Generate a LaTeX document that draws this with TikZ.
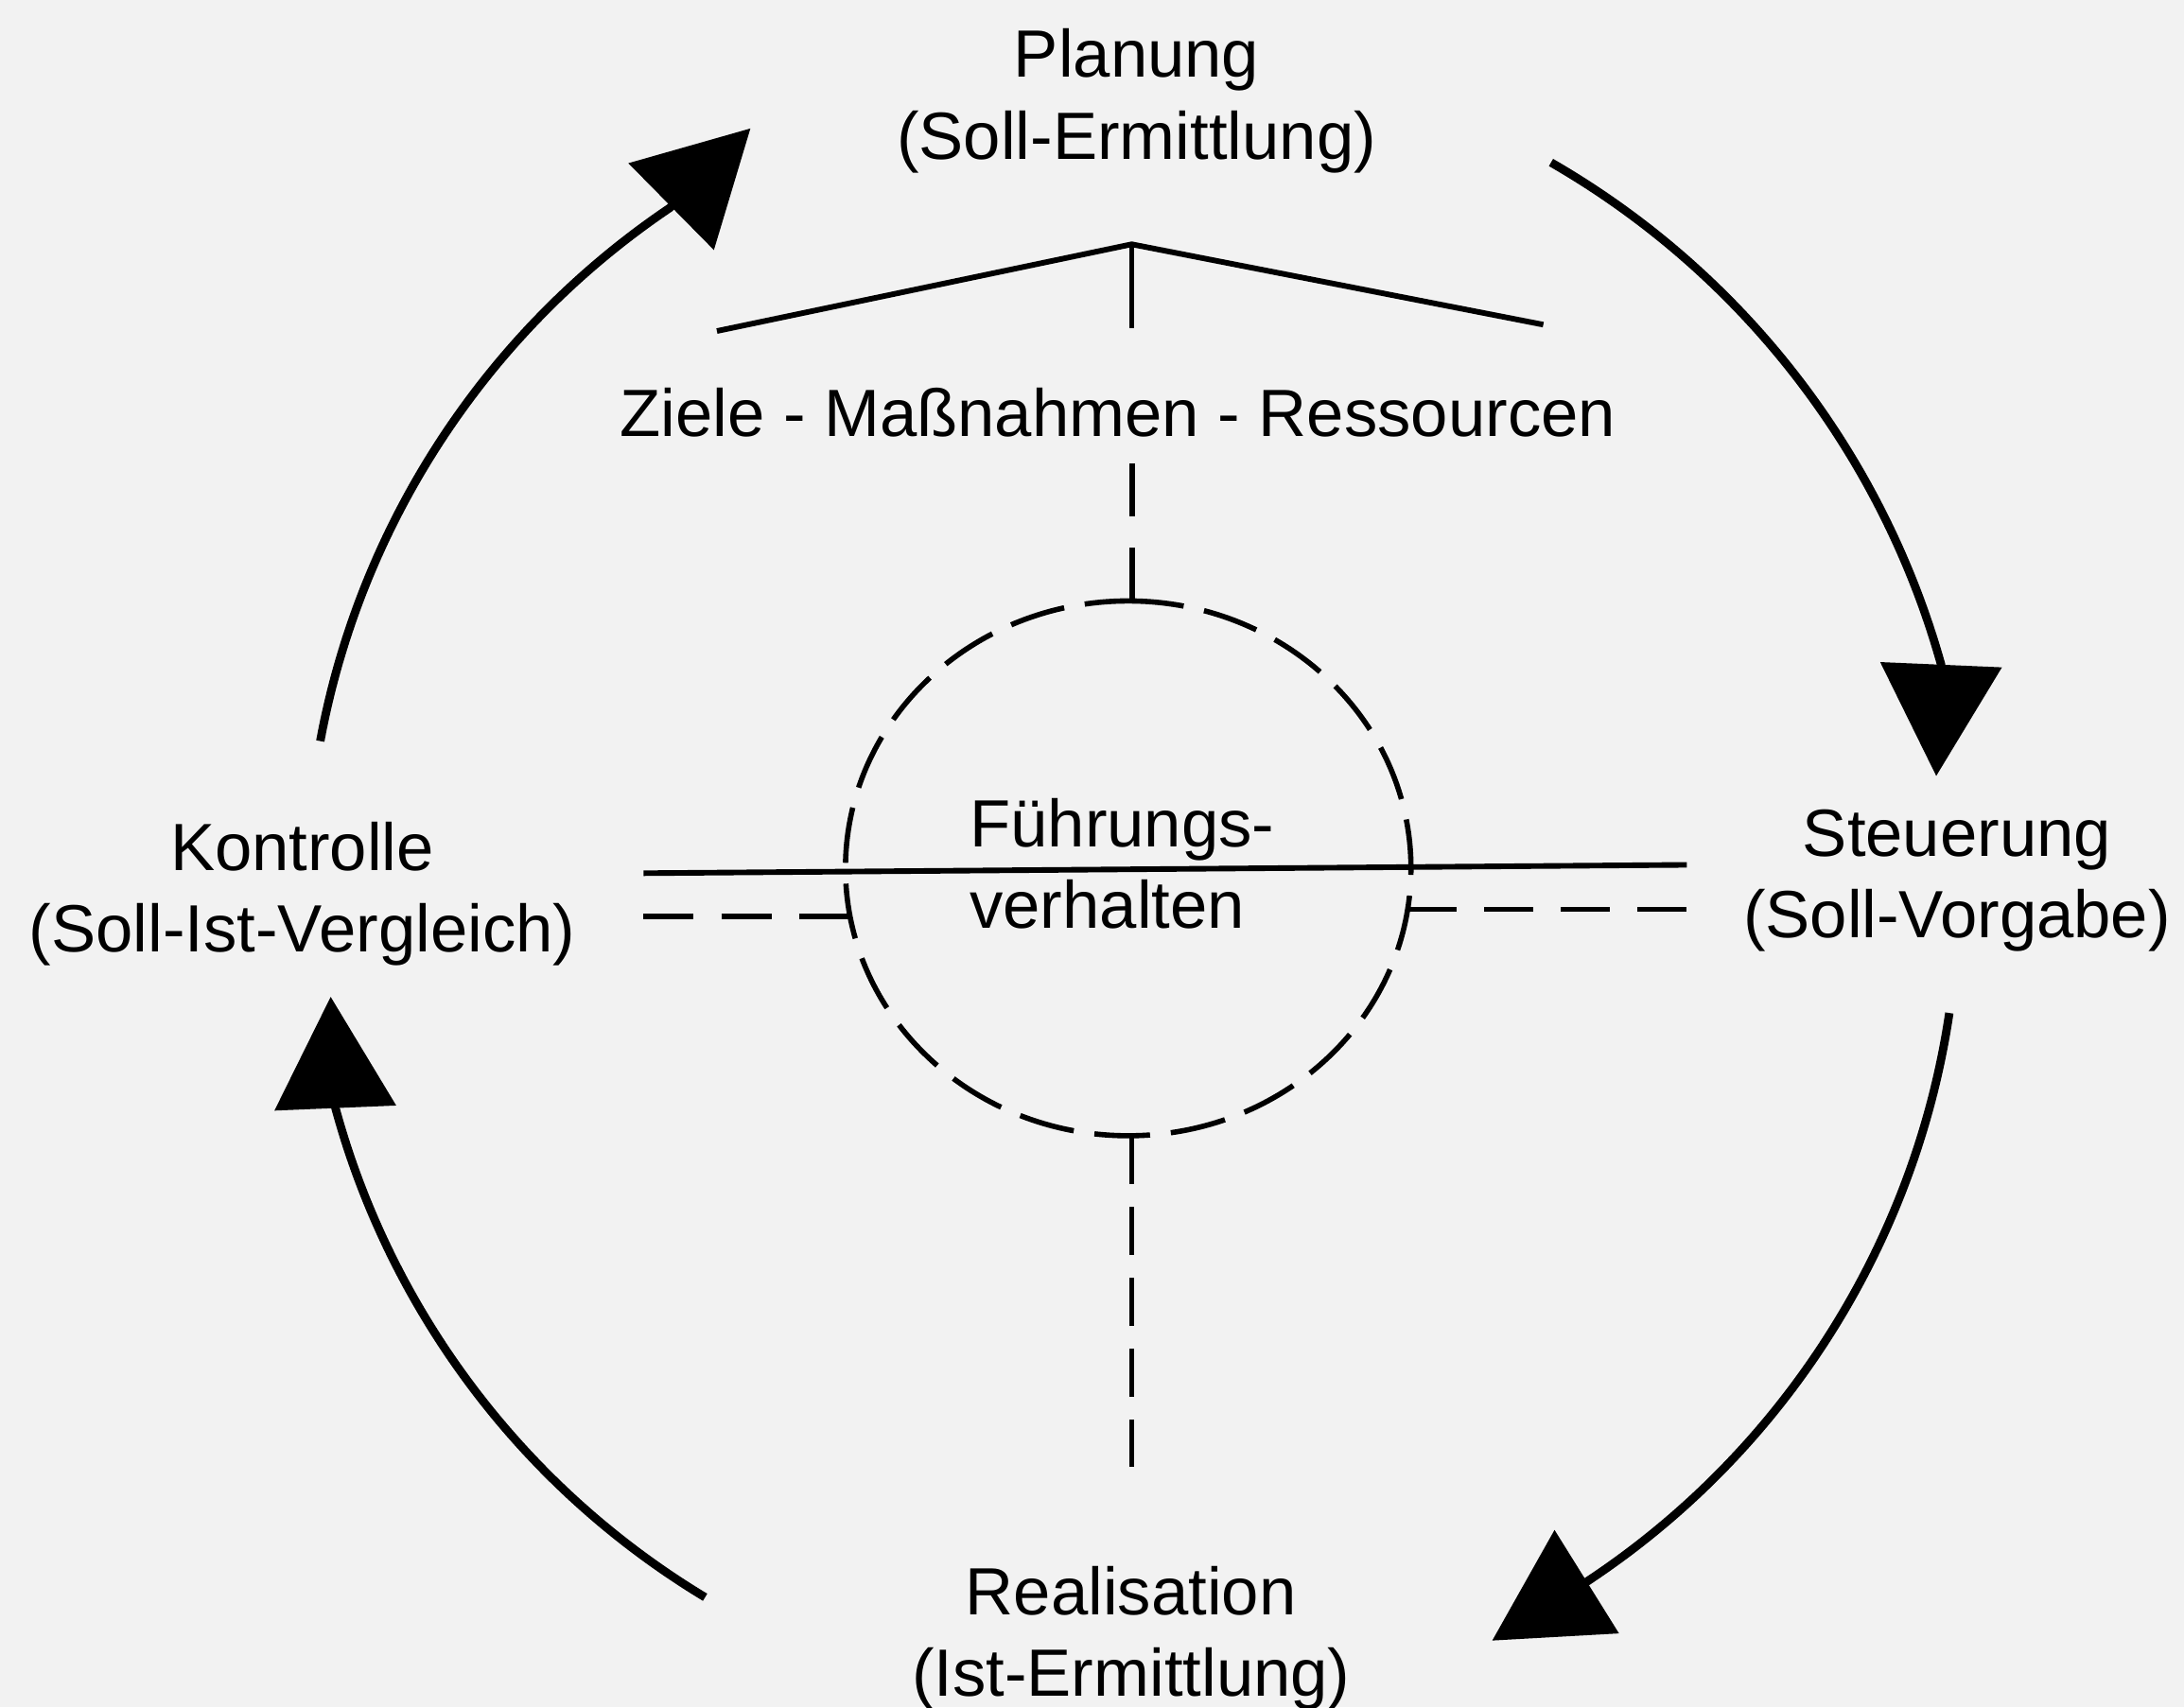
\documentclass[tikz,border=0pt]{standalone}
\usepackage{fontspec}
\setmainfont{Liberation Sans}
\usetikzlibrary{arrows.meta,calc}
\begin{document}
\begin{tikzpicture}[x=0.5pt,y=-0.5pt,
  lbl/.style={font=\fontsize{24}{29.4}\selectfont, inner sep=0pt, align=center, anchor=base},
  cyc/.style={line width=3pt, -{Triangle[length=40pt,width=43pt]}},
  roof/.style={line width=2pt},
  stem/.style={line width=1.7pt},
  dsh/.style={line width=1.9pt},
]
\fill[black!5] (0,0) rectangle (1568,1226);
\useasboundingbox (0,0) rectangle (1568,1226);

% labels (anchor = baseline of the last line)
\node[lbl] (plan) at (816,114.3) {Planung\\(Soll-Ermittlung)};
\node[lbl] (steu) at (1405,673.4) {Steuerung\\(Soll-Vorgabe)};
\node[lbl] (real) at (812,1218) {Realisation\\(Ist-Ermittlung)};
\node[lbl] (kontr) at (217,683.6) {Kontrolle\\(Soll-Ist-Vergleich)};
\node[lbl] (ziele) at (802.5,313.5) {Ziele - Maßnahmen - Ressourcen};
\node[lbl, align=left, anchor=base west] (fuehr) at (695.8,666.7) {Führungs-\\verhalten};

% roof
\coordinate (rl) at (514.7,237.7);
\coordinate (apex) at (812.5,175.4);
\coordinate (rr) at (1108,233.1);
\coordinate (apexb) at (812.5,235.4);
\draw[roof, line join=miter] (rl) -- (apex) -- (rr);
\draw[stem] (apex) -- (apexb);

% dashed ellipse
\coordinate (ctop) at (810,431.5);
\draw[dsh, dash pattern=on 20pt off 7.5pt] (ctop) arc[start angle=-90, end angle=270, x radius=203, y radius=192];

% dashed verticals
\coordinate (vt1) at (812.8,431.5);
\coordinate (vt2) at (812.8,331.5);
\draw[dsh, dash pattern=on 19pt off 11.5pt] (vt1) -- (vt2);
\coordinate (vb1) at (812.6,815.5);
\coordinate (vb2) at (812.6,1053.5);
\draw[dsh, dash pattern=on 17.25pt off 8.25pt] (vb1) -- (vb2);

% horizontals
\coordinate (hl) at (462,627);
\coordinate (hr) at (1211,621);
\draw[line width=2pt] (hl) -- (hr);
\coordinate (dl1) at (462,658);
\coordinate (dl2) at (610.4,658);
\draw[dsh, dash pattern=on 18pt off 9.9pt] (dl1) -- (dl2);
\coordinate (dr1) at (1010.6,653);
\coordinate (dr2) at (1211,653);
\draw[dsh, dash pattern=on 17.75pt off 9.75pt] (dr1) -- (dr2);

% cycle arrows
\coordinate (C) at (812,640);
\coordinate (a1s) at ($(C)+(190.5:592)$);
\coordinate (a1t) at (538.8,92.2);
\coordinate (a2s) at ($(C)+(-60.05:604)$);
\coordinate (a2t) at (1390.1,557.2);
\coordinate (a3s) at ($(C)+(8.46:594)$);
\coordinate (a3t) at (1071.3,1178);
\coordinate (a4s) at ($(C)+(121.1:592)$);
\coordinate (a4t) at (237.4,715.7);
\draw[cyc] (a1s) arc[start angle=190.5, end angle=236, radius=592] -- (a1t);
\draw[cyc] (a2s) arc[start angle=-60.05, end angle=-15.65, radius=604] -- (a2t);
\draw[cyc] (a3s) arc[start angle=8.46, end angle=56.5, radius=594] -- (a3t);
\draw[cyc] (a4s) arc[start angle=121.1, end angle=164.8, radius=592] -- (a4t);
\end{tikzpicture}
\end{document}
